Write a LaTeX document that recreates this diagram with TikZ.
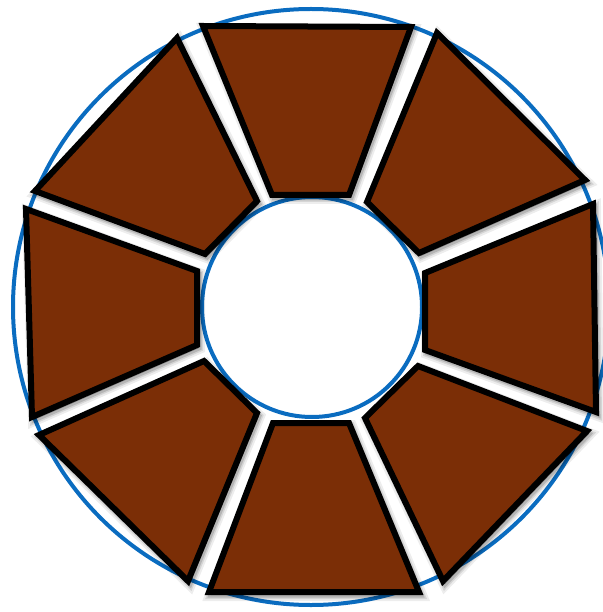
\documentclass[tikz,border=0pt]{standalone}
\definecolor{segbrown}{RGB}{123,46,6}
\definecolor{ringblue}{RGB}{10,108,192}
\tikzset{
  ring/.style={draw=ringblue, line width=4pt},
  segment/.style={fill=segbrown, draw=black, line width=6pt, line join=miter,
    preaction={draw=black, fill=black, opacity=0.07, line width=12pt, transform canvas={xshift=2pt, yshift=-3pt}},
    preaction={draw=black, fill=black, opacity=0.10, line width=8pt, transform canvas={xshift=2pt, yshift=-3pt}},
    preaction={draw=black, fill=black, opacity=0.15, line width=5pt, transform canvas={xshift=2pt, yshift=-3pt}}}
}
\begin{document}
\begin{tikzpicture}[x=1pt, y=-1pt]
    \useasboundingbox (0,0) rectangle (602,612);
    % the two rings
    \draw[ring] (311,307) circle (298);
    \draw[ring] (312,307) circle (110);
    % eight segments, clockwise from the top
    \draw[segment] (203,26) -- (411,27) -- (349,195) -- (272,195) -- cycle;
    \draw[segment] (437,33) -- (585,180) -- (419,253) -- (367,202) -- cycle;
    \draw[segment] (593,204) -- (596,412) -- (425,350) -- (425,273) -- cycle;
    \draw[segment] (587,431) -- (443,581) -- (365,418) -- (418,366) -- cycle;
    \draw[segment] (419,592) -- (209,592) -- (273,423) -- (349,423) -- cycle;
    \draw[segment] (188,581) -- (39,435) -- (204,361) -- (257,413) -- cycle;
    \draw[segment] (32,417) -- (26,209) -- (197,271) -- (197,345) -- cycle;
    \draw[segment] (35,191) -- (177,38) -- (257,201) -- (205,254) -- cycle;
\end{tikzpicture}
\end{document}
